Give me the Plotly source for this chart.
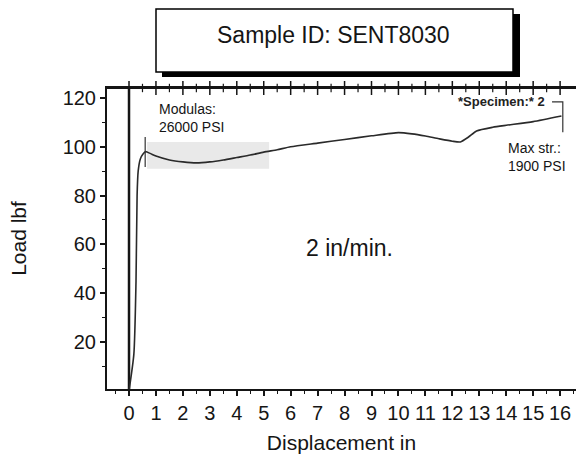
import plotly.graph_objects as go

# ---- data ----
displacement = [0.0, 0.18, 0.26, 0.30, 0.34, 0.42, 0.52, 0.62, 0.8, 1.0, 1.5, 2.0, 2.5,
                3.0, 3.5, 4.0, 4.5, 5.0, 5.5, 6.0, 7.0, 8.0, 9.0, 10.0, 10.5, 11.0,
                11.5, 12.0, 12.3, 12.6, 12.9, 13.5, 14.0, 15.0, 16.05]
load = [0.0, 15, 45, 80, 90, 95, 97, 98, 97.2, 96.2, 94.6, 93.8, 93.4,
        93.8, 94.6, 95.6, 96.6, 97.8, 98.8, 100.0, 101.5, 103.0, 104.5, 105.8, 105.3, 104.4,
        103.3, 102.3, 102.0, 104.0, 106.5, 108.0, 108.8, 110.3, 112.6]

cursor_x = [0.0, 0.0]
cursor_y = [0.0, 124.2]
modulus_mark_x = [0.6, 0.6]
modulus_mark_y = [91.7, 104.0]
max_mark_x = [15.7, 16.1, 16.1]
max_mark_y = [118.4, 118.4, 106.0]

x_ticks = list(range(0, 17))
x_minor_ticks = [v + 0.5 for v in x_ticks]
y_ticks = [20, 40, 60, 80, 100, 120]

title_text = "Sample ID: SENT8030"
rate_text = "2 in/min."
modulus_text = "Modulas:<br>26000 PSI"
max_text = "Max str.:<br>1900 PSI"
specimen_text = "*Specimen:* 2"

W, H = 576, 462
L, R, T, B = 107, 0, 88, 73
PW, PH = W - L - R, H - T - B
XR = [-0.817, 16.59]
YR = [0.7, 124.1]


def px(x):
    return (x - L) / PW


def py(y):
    return (H - B - y) / PH


FONT = "Liberation Sans, Arial, sans-serif"
INK = "#151515"

fig = go.Figure()

fig.add_trace(go.Scatter(x=cursor_x, y=cursor_y, mode="lines",
                         line=dict(color=INK, width=2.5), hoverinfo="skip"))
fig.add_trace(go.Scatter(x=displacement, y=load, mode="lines",
                         line=dict(color="#2a2a2a", width=1.6, shape="spline", smoothing=0.6)))
fig.add_trace(go.Scatter(x=modulus_mark_x, y=modulus_mark_y, mode="lines",
                         line=dict(color="#333", width=1.2)))
fig.add_trace(go.Scatter(x=max_mark_x, y=max_mark_y, mode="lines",
                         line=dict(color="#333", width=1.2)))
# tick marks along the top frame edge
fig.add_trace(go.Scatter(x=x_ticks, y=[YR[1]] * len(x_ticks), mode="markers", cliponaxis=False,
                         marker=dict(symbol="line-ns", size=10, line=dict(width=1.5, color=INK)),
                         hoverinfo="skip"))
fig.add_trace(go.Scatter(x=x_minor_ticks[:-1], y=[YR[1]] * (len(x_minor_ticks) - 1),
                         mode="markers", cliponaxis=False,
                         marker=dict(symbol="line-ns", size=6, line=dict(width=1.2, color=INK)),
                         hoverinfo="skip"))

# faint scan smudge behind the early curve
fig.add_shape(type="rect", xref="x", yref="y", x0=0.67, x1=5.2, y0=91, y1=102,
              fillcolor="#b0b0b0", opacity=0.28, line=dict(width=0), layer="below")

# top frame line
fig.add_shape(type="line", xref="paper", yref="paper", x0=0, x1=1, y0=1, y1=1,
              line=dict(color=INK, width=2))

# title box with drop shadow
fig.add_shape(type="rect", xref="paper", yref="paper",
              x0=px(162), x1=px(520), y0=py(77), y1=py(14),
              fillcolor="black", line=dict(width=0))
fig.add_shape(type="rect", xref="paper", yref="paper",
              x0=px(156), x1=px(513), y0=py(72), y1=py(9),
              fillcolor="white", line=dict(color="black", width=1.5))

annots = [
    dict(text=title_text, xref="paper", yref="paper", x=px(333), y=py(35),
         font=dict(size=23, color=INK, family=FONT)),
    dict(text=rate_text, xref="x", yref="y", x=8.2, y=58.5,
         font=dict(size=23, color=INK, family=FONT)),
    dict(text=modulus_text, xref="x", yref="y", x=1.05, y=111.8, xanchor="left", align="left",
         font=dict(size=14, color=INK, family=FONT)),
    dict(text=max_text, xref="x", yref="y", x=14.0, y=96.0, xanchor="left", align="left",
         font=dict(size=14, color=INK, family=FONT)),
    dict(text="<b>" + specimen_text + "</b>", xref="x", yref="y", x=13.83, y=118.4,
         font=dict(size=13, color="#222", family=FONT)),
]
for a in annots:
    a.setdefault("showarrow", False)
    a.setdefault("xanchor", "center")
    a.setdefault("yanchor", "middle")
    fig.add_annotation(**a)

fig.update_layout(
    width=W, height=H,
    margin=dict(l=L, r=R, t=T, b=B),
    paper_bgcolor="white", plot_bgcolor="white",
    showlegend=False,
    font=dict(family=FONT, color=INK),
    xaxis=dict(
        range=XR, tickvals=x_ticks, ticktext=[str(v) for v in x_ticks],
        showgrid=False, zeroline=False, showline=True, mirror=True,
        linecolor=INK, linewidth=2,
        ticks="outside", ticklen=5, tickwidth=1.5, tickcolor=INK,
        minor=dict(dtick=0.5, tick0=0, ticks="outside", ticklen=3, tickwidth=1.2, tickcolor=INK),
        tickfont=dict(size=20, color=INK, family=FONT),
        title=dict(text="Displacement in", font=dict(size=21, color=INK, family=FONT), standoff=12),
    ),
    yaxis=dict(
        range=YR, tickvals=y_ticks, ticktext=[str(v) for v in y_ticks],
        showgrid=False, zeroline=False, showline=True, linecolor=INK, linewidth=2,
        ticks="outside", ticklen=5, tickwidth=1.5, tickcolor=INK,
        minor=dict(dtick=10, tick0=0, ticks="outside", ticklen=3, tickwidth=1.2, tickcolor=INK),
        tickfont=dict(size=20, color=INK, family=FONT),
        title=dict(text="Load lbf", font=dict(size=21, color=INK, family=FONT), standoff=30),
    ),
)

fig.write_html("out.html", config={"displayModeBar": False},
               post_script="document.body.style.margin='0px';")
